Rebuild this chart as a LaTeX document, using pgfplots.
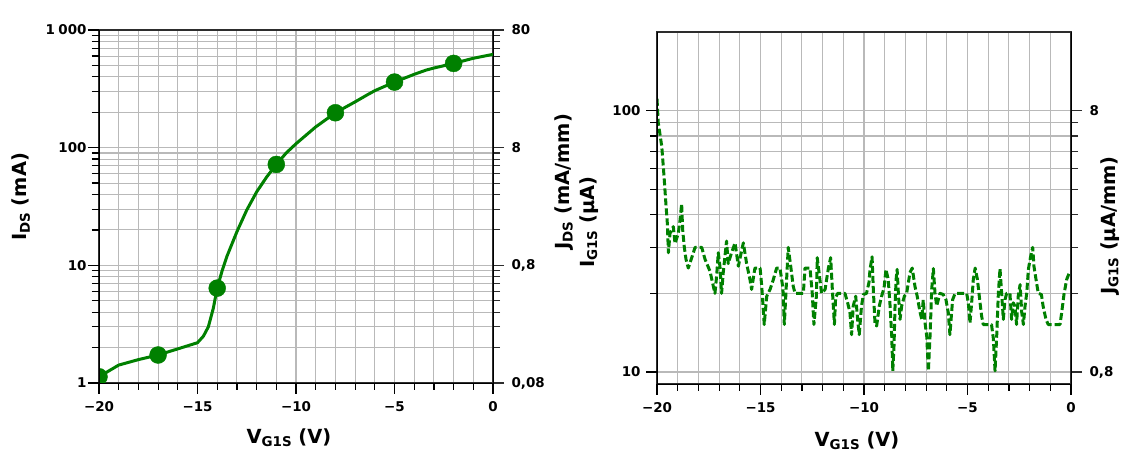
\documentclass[border=0pt]{standalone}
\usepackage{pgfplots}
\pgfplotsset{compat=1.18}
\usepackage{fontspec}
\setmainfont{DejaVu Sans}
\definecolor{dgreen}{RGB}{0,128,0}
\definecolor{gridgray}{RGB}{185,185,185}
\definecolor{axgray}{RGB}{45,45,45}
\newcommand\sub[1]{\raisebox{-0.3ex}{\fontsize{13.5}{13.5}\selectfont #1}}

\pgfplotstableread{
x y
-20 1.13
-19 1.42
-18 1.58
-17 1.73
-16 1.95
-15 2.2
-14.7 2.5
-14.45 3.0
-14.2 4.3
-14 6.4
-13.75 9.0
-13.5 12
-13 19.3
-12.5 29.5
-12 42
-11.5 56
-11 72
-10.5 90
-10 108
-9 150
-8 198
-7 245
-6.4 280
-6 305
-5 361
-4 420
-3.4 456
-3 475
-2 520
-1 575
0 621
}\idscurve

\pgfplotstableread{
x y
-20 1.13
-17 1.73
-14 6.4
-11 72
-8 198
-5 361
-2 520
}\idsmarks

\pgfplotstableread{
x y
-20.00 111
-19.94 90
-19.77 73
-19.66 56
-19.57 44
-19.50 37
-19.45 28.6
-19.37 34
-19.21 36
-19.13 31
-18.97 34
-18.89 38
-18.81 44
-18.76 35
-18.68 30
-18.60 27
-18.49 25
-18.32 27.4
-18.16 30
-17.84 30
-17.68 27
-17.44 24.3
-17.28 21.3
-17.20 20
-17.12 23.3
-17.04 28.6
-16.96 25.4
-16.88 20
-16.80 24
-16.64 31.7
-16.56 26
-16.40 28.6
-16.23 31.2
-16.07 25.4
-15.83 31.2
-15.67 26
-15.51 22.6
-15.43 20.7
-15.27 25
-15.02 25
-14.94 21.3
-14.82 15.2
-14.70 19.5
-14.54 20.7
-14.38 22.6
-14.22 25
-14.06 25
-13.92 21
-13.85 15.2
-13.78 19.5
-13.66 30
-13.53 25
-13.42 21.3
-13.33 20
-12.93 20
-12.85 25
-12.61 25
-12.50 20
-12.42 15.2
-12.30 19.5
-12.26 27.4
-12.13 22.6
-12.05 20
-11.88 20.7
-11.72 25
-11.61 27.4
-11.53 20.7
-11.43 15.2
-11.37 19.3
-11.27 20
-10.92 20
-10.79 18.4
-10.68 16.9
-10.60 13.9
-10.52 17.9
-10.40 19.5
-10.31 15.9
-10.23 13.9
-10.12 17.9
-10.03 19.8
-9.88 20
-9.76 22
-9.71 24.7
-9.61 27.6
-9.55 20.7
-9.47 15.4
-9.39 15
-9.26 17.9
-9.15 19.5
-9.03 21
-8.94 24.7
-8.83 22.6
-8.74 17.9
-8.66 13.7
-8.61 10.1
-8.55 12.6
-8.50 18
-8.45 22.6
-8.40 24.7
-8.34 20
-8.26 15.9
-8.18 17.9
-8.05 19.5
-7.94 20
-7.78 24
-7.67 25
-7.54 21.3
-7.43 19.5
-7.29 16.9
-7.21 15.9
-7.14 18.9
-7.05 15.4
-6.97 13.7
-6.89 10.1
-6.81 13.7
-6.73 20.7
-6.65 24.9
-6.57 20
-6.49 17.9
-6.33 20
-6.17 19.8
-6.04 18.9
-5.93 16.9
-5.85 13.9
-5.72 18.9
-5.60 20
-5.04 20
-4.96 18.4
-4.88 15.4
-4.80 18.4
-4.72 22.6
-4.63 25
-4.52 22.6
-4.43 19.5
-4.32 16.4
-4.24 15.2
-3.84 15.2
-3.75 13.4
-3.67 10.1
-3.59 13.7
-3.51 20
-3.43 24.9
-3.35 20
-3.27 15.9
-3.19 18.9
-3.11 20
-2.95 20
-2.87 15.9
-2.79 18.4
-2.71 17.9
-2.63 15.2
-2.55 19.5
-2.46 21.6
-2.38 16.9
-2.30 15.2
-2.22 17.9
-2.14 20
-2.06 24.7
-1.95 27.7
-1.85 30
-1.79 25.4
-1.69 22.6
-1.58 20
-1.43 19.8
-1.35 17.9
-1.21 15.9
-1.10 15.2
-0.53 15.2
-0.45 16.9
-0.34 19.8
-0.21 22.6
-0.08 24
0.00 24
}\igsdata

\pgfplotsset{
  /pgfplots/myaxbase/.style={
    scale only axis,
    xmin=-20, xmax=0,
    xtick={-20,-15,-10,-5,0},
    minor x tick num=4,
    tick label style={font=\fontsize{13.5}{16}\selectfont\bfseries},
    label style={font=\fontsize{19.5}{22}\selectfont\bfseries},
  },
  /pgfplots/mygridonly/.style={
    grid=both,
    major grid style={gridgray, line width=1.1bp},
    minor grid style={gridgray, line width=1.1bp},
    axis line style={axgray, line width=1.2bp},
    major tick length=0pt,
    minor tick length=0pt,
    tick pos=left,
    xticklabels={−20,−15,−10,−5,0},
    xticklabel style={yshift=-15bp},
  },
  /pgfplots/myrightax/.style={
    tick align=outside,
    every tick/.style={axgray, line width=1.1bp},
    major tick length=11bp, minor tick length=7bp,
    axis y line*=right,
    axis x line=none,
    grid=none,
    yticklabel style={xshift=4bp},
  },
}

\begin{document}
\begin{tikzpicture}
\useasboundingbox (0,0) rectangle (1141bp,454bp);

% ---------- tick-only axes, first copy ----------
\begin{axis}[ymode=log, scale only axis, xmin=-20, xmax=0, ymin=1, ymax=1000,
  at={(99bp,71bp)}, anchor=south west, width=394bp, height=353bp,
  axis y line*=left, axis x line=none, tick align=outside,
  every tick/.style={black, line width=1.2bp},
  major tick length=11bp, minor tick length=7bp,
  ytick={1,10,100,1000}, yticklabels={}]
\end{axis}
\begin{axis}[scale only axis, xmin=-20, xmax=0, ymin=1, ymax=1000,
  at={(99bp,71bp)}, anchor=south west, width=394bp, height=353bp,
  axis x line*=bottom, axis y line=none, tick align=outside,
  xtick style={black, line width=1.2bp},
  major tick length=11bp, minor tick length=7bp, minor x tick num=4,
  xtick={-20,-15,-10,-5,0}, xticklabels={}]
\end{axis}
\begin{axis}[ymode=log, scale only axis, xmin=-20, xmax=0, ymin=9, ymax=200,
  at={(657bp,70bp)}, anchor=south west, width=414bp, height=352bp,
  axis y line*=left, axis x line=none, tick align=outside,
  every tick/.style={black, line width=1.2bp},
  major tick length=11bp, minor tick length=7bp,
  ytick={10,100}, yticklabels={}]
\end{axis}
\begin{axis}[scale only axis, xmin=-20, xmax=0, ymin=1, ymax=1000,
  at={(657bp,70bp)}, anchor=south west, width=414bp, height=352bp,
  axis x line*=bottom, axis y line=none, tick align=outside,
  xtick style={black, line width=1.2bp},
  major tick length=11bp, minor tick length=7bp, minor x tick num=4,
  xtick={-20,-15,-10,-5,0}, xticklabels={}]
\end{axis}

% ---------- panel a ----------
\begin{axis}[ymode=log, myaxbase, mygridonly,
  at={(99bp,71bp)}, anchor=south west,
  width=394bp, height=353bp,
  ymin=1, ymax=1000,
  ytick={1,10,100,1000},
  yticklabels={1,10,100,{1\hspace{0.25em}000}},
  yticklabel style={xshift=-9bp},
  clip marker paths=true,
  xlabel={V\sub{G1S} (V)},
  ylabel={I\sub{DS} (mA)},
  xlabel style={at={(axis description cs:0.482,-0.156)}, anchor=center},
  ylabel style={at={(axis description cs:-0.198,0.527)}, anchor=center},
]
\addplot[dgreen, line width=3bp, line join=round] table[x=x,y=y] {\idscurve};
\addplot[only marks, mark=*, mark size=8.5bp, dgreen, mark options={fill=dgreen, draw=dgreen}] table[x=x,y=y] {\idsmarks};
\node[anchor=south west, font=\fontsize{14}{16}\selectfont, inner sep=1bp] at (rel axis cs:-0.005,1.005) {a)};
\end{axis}

\begin{axis}[ymode=log, myaxbase, myrightax,
  at={(99bp,71bp)}, anchor=south west,
  width=394bp, height=353bp,
  ymin=1, ymax=1000,
  ytick={1,10,100,1000},
  yticklabels={{0,08},{0,8},8,80},
  ylabel={J\sub{DS} (mA/mm)},
  ylabel style={at={(axis description cs:1.18,0.57)}, anchor=center},
]
\end{axis}

% ---------- panel b ----------
\begin{axis}[ymode=log, myaxbase, mygridonly,
  at={(657bp,70bp)}, anchor=south west,
  width=414bp, height=352bp,
  ymin=9, ymax=200,
  ytick={10,100},
  yticklabels={10,100},
  yticklabel style={xshift=-13bp},
  xlabel={V\sub{G1S} (V)},
  ylabel={I\sub{G1S} (µA)},
  xlabel style={at={(axis description cs:0.483,-0.16)}, anchor=center},
  ylabel style={at={(axis description cs:-0.165,0.46)}, anchor=center},
]
\addplot[dgreen, line width=3bp, dash pattern=on 7bp off 3bp, line join=round] table[x=x,y=y] {\igsdata};
\node[anchor=south west, font=\fontsize{14}{16}\selectfont, inner sep=1bp] at (rel axis cs:0.005,1.005) {b)};
\end{axis}

\begin{axis}[ymode=log, myaxbase, myrightax,
  at={(657bp,70bp)}, anchor=south west,
  width=414bp, height=352bp,
  ymin=9, ymax=200,
  ytick={10,100},
  yticklabels={{0,8},8},
  ylabel={J\sub{G1S} (µA/mm)},
  ylabel style={at={(axis description cs:1.094,0.45)}, anchor=center},
]
\end{axis}

% ---------- tick-only axes, second copy ----------
\begin{axis}[ymode=log, scale only axis, xmin=-20, xmax=0, ymin=1, ymax=1000,
  at={(99bp,71bp)}, anchor=south west, width=394bp, height=353bp,
  axis y line*=left, axis x line=none, tick align=outside,
  every tick/.style={black, line width=1.2bp},
  major tick length=11bp, minor tick length=7bp,
  ytick={1,10,100,1000}, yticklabels={}]
\end{axis}
\begin{axis}[scale only axis, xmin=-20, xmax=0, ymin=1, ymax=1000,
  at={(99bp,71bp)}, anchor=south west, width=394bp, height=353bp,
  axis x line*=bottom, axis y line=none, tick align=outside,
  xtick style={black, line width=1.2bp},
  major tick length=11bp, minor tick length=7bp, minor x tick num=4,
  xtick={-20,-15,-10,-5,0}, xticklabels={}]
\end{axis}
\begin{axis}[ymode=log, scale only axis, xmin=-20, xmax=0, ymin=9, ymax=200,
  at={(657bp,70bp)}, anchor=south west, width=414bp, height=352bp,
  axis y line*=left, axis x line=none, tick align=outside,
  every tick/.style={black, line width=1.2bp},
  major tick length=11bp, minor tick length=7bp,
  ytick={10,100}, yticklabels={}]
\end{axis}
\begin{axis}[scale only axis, xmin=-20, xmax=0, ymin=1, ymax=1000,
  at={(657bp,70bp)}, anchor=south west, width=414bp, height=352bp,
  axis x line*=bottom, axis y line=none, tick align=outside,
  xtick style={black, line width=1.2bp},
  major tick length=11bp, minor tick length=7bp, minor x tick num=4,
  xtick={-20,-15,-10,-5,0}, xticklabels={}]
\end{axis}
\end{tikzpicture}
\end{document}
